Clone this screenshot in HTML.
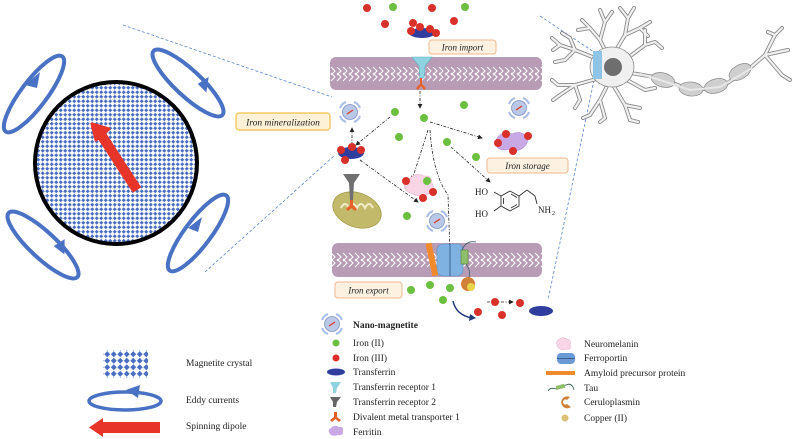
<!DOCTYPE html>
<html><head><meta charset="utf-8"><style>
html,body{margin:0;padding:0;background:#fff;width:793px;height:439px;overflow:hidden}
svg{display:block}
text{font-family:"Liberation Serif",serif;fill:#222}
</style></head><body>
<svg width="793" height="439" viewBox="0 0 793 439" xmlns="http://www.w3.org/2000/svg">
<defs>
<pattern id="dia" width="4.5" height="4.5" patternUnits="userSpaceOnUse">
<rect width="4.5" height="4.5" fill="#fff"/>
<path d="M2.25 0.2 L4.3 2.25 L2.25 4.3 L0.2 2.25Z" fill="#4a6fc2"/>
</pattern>
<pattern id="dia2" width="6.5" height="6.5" patternUnits="userSpaceOnUse">
<rect width="6.5" height="6.5" fill="#fff"/>
<path d="M3.25 0.3 L6.2 3.25 L3.25 6.2 L0.3 3.25Z" fill="#4a6fc2"/>
</pattern>
<pattern id="mem1" x="0" y="57" width="6" height="33" patternUnits="userSpaceOnUse">
<rect width="6" height="33" fill="#b89cb6"/>
<path d="M1 10 L5 14 L1 18 M1 16 L5 20 L1 24" stroke="#fff" stroke-width="1.1" fill="none"/>
</pattern>
<pattern id="mem2" x="0" y="243" width="6" height="34" patternUnits="userSpaceOnUse">
<rect width="6" height="34" fill="#b89cb6"/>
<path d="M1 10 L5 14 L1 18 M1 16 L5 20 L1 24" stroke="#fff" stroke-width="1.1" fill="none"/>
</pattern>
<g id="nm">
<circle r="7.5" fill="#b9c8e6" stroke="#7f93c4" stroke-width="0.8"/>
<line x1="-3" y1="2" x2="3" y2="-2" stroke="#e23a2e" stroke-width="1.3"/>
<path d="M-10 -4 A10 10 0 0 1 -4 -10 M4 -10 A10 10 0 0 1 10 -4 M10 4 A10 10 0 0 1 4 10 M-4 10 A10 10 0 0 1 -10 4" stroke="#a9bde6" stroke-width="2" fill="none"/>
</g>
<g id="gd"><circle r="4" fill="#6cc040"/></g>
<g id="rd"><circle r="4" fill="#d9302a"/></g>
<marker id="ah" markerWidth="6" markerHeight="6" refX="5" refY="3" orient="auto"><path d="M0 0 L6 3 L0 6Z" fill="#222"/></marker>
</defs>

<g stroke="#5b86c9" stroke-width="0.8" stroke-dasharray="3,2" fill="none">
<line x1="123" y1="25" x2="332" y2="97"/>
<line x1="205" y1="272" x2="335" y2="155"/>
<line x1="540" y1="16" x2="594" y2="52"/>
<line x1="594" y1="80" x2="548" y2="300"/>
</g>

<circle cx="116" cy="163" r="81" fill="url(#dia)" stroke="#000" stroke-width="4"/>
<line x1="137" y1="190" x2="100" y2="133" stroke="#e8352a" stroke-width="10"/>
<path d="M92 124 L109 129 L96 140 Z" fill="#e8352a" stroke="#e8352a" stroke-width="3" stroke-linejoin="round"/>

<g stroke="#4a72c4" stroke-width="4" fill="none">
<ellipse cx="34" cy="94" rx="47" ry="13" transform="rotate(-53 34 94)"/>
<ellipse cx="188" cy="83" rx="47" ry="13" transform="rotate(43 188 83)"/>
<ellipse cx="43" cy="245" rx="47" ry="13" transform="rotate(43 43 245)"/>
<ellipse cx="198" cy="233" rx="47" ry="13" transform="rotate(-53 198 233)"/>
</g>
<g fill="#4a72c4">
<path d="M25 85 L40 72 L37 88 Z"/>
<path d="M198 83 L210 78 L205 93 Z" transform="rotate(-10 203 85)"/>
<path d="M54 245 L66 240 L63 255 Z" transform="rotate(-10 60 247)"/>
<path d="M188 228 L202 217 L198 232 Z"/>
</g>

<rect x="236" y="113" width="94" height="17" rx="3" fill="#fdf2d8" stroke="#f2c048" stroke-width="1.2"/>
<text x="283" y="125.5" font-size="9.5" font-style="italic" text-anchor="middle">Iron mineralization</text>

<rect x="103" y="350" width="45" height="28" fill="url(#dia2)"/>
<ellipse cx="125" cy="401" rx="36" ry="9" fill="none" stroke="#4a72c4" stroke-width="3.5"/>
<path d="M126 390 L140 385 L138 398 Z" fill="#4a72c4"/>
<rect x="100" y="422" width="60" height="11" fill="#e8352a"/>
<path d="M89 427.5 L103 418 L103 437 Z" fill="#e8352a"/>
<text x="186" y="366" font-size="9.5">Magnetite crystal</text>
<text x="186" y="403" font-size="9.5">Eddy currents</text>
<text x="186" y="429" font-size="9.5">Spinning dipole</text>

<rect x="330" y="57" width="212" height="33" rx="6" fill="url(#mem1)"/>
<rect x="332" y="243" width="210" height="34" rx="6" fill="url(#mem2)"/>

<use href="#rd" x="367" y="8"/><use href="#rd" x="432" y="8"/><use href="#rd" x="385" y="24"/><use href="#rd" x="454" y="21"/>
<use href="#gd" x="393" y="7"/><use href="#gd" x="465" y="7"/>
<ellipse cx="422" cy="33" rx="13" ry="5" fill="#2e3d9e"/>
<use href="#rd" x="413" y="23"/><use href="#rd" x="420" y="27"/><use href="#rd" x="430" y="29"/><use href="#rd" x="411" y="31"/><use href="#rd" x="436" y="33"/>
<rect x="429" y="40" width="67" height="14" rx="3" fill="#fdf2e2" stroke="#f0b890" stroke-width="1"/>
<text x="462.5" y="50.5" font-size="9" font-style="italic" text-anchor="middle">Iron import</text>

<path d="M412 57 L432 57 L425 66 L424 78 L420 78 L419 66 Z" fill="#8fd3e0" stroke="#5bb5c8" stroke-width="0.6"/>
<path d="M420 78 L422 78 L422 84 L426 88 L424 90 L421 86 L418 90 L416 88 L420 84 Z" fill="#e6602a"/>

<g stroke="#222" stroke-width="0.8" stroke-dasharray="3,1.5,1,1.5" fill="none" marker-end="url(#ah)">
<line x1="420" y1="91" x2="420" y2="108"/>
<path d="M390 117 L356 145"/>
<path d="M430 122 L482 138"/>
<path d="M428 130 L412 180"/>
<path d="M451 147 L490 182"/>
<path d="M430 130 Q433 175 448 195 L450 253"/>
<path d="M360 160 L418 202"/>
<path d="M352 145 L352 128"/>
<path d="M487 302 L513 302"/>
</g>

<use href="#gd" x="395" y="112"/><use href="#gd" x="424" y="118"/><use href="#gd" x="464" y="105"/><use href="#gd" x="517" y="110"/>
<use href="#gd" x="399" y="137"/><use href="#gd" x="447" y="142"/><use href="#gd" x="476" y="157"/><use href="#gd" x="407" y="216"/>
<use href="#gd" x="411" y="290"/><use href="#gd" x="430" y="285"/><use href="#gd" x="450" y="288"/><use href="#gd" x="443" y="300"/>

<use href="#nm" x="350" y="112"/><use href="#nm" x="519" y="108"/><use href="#nm" x="437" y="221"/>

<ellipse cx="351" cy="153" rx="13" ry="6" fill="#2e3d9e"/>
<use href="#rd" x="341" y="150"/><use href="#rd" x="352" y="147"/><use href="#rd" x="361" y="150"/><use href="#rd" x="345" y="160"/>

<path d="M500 135 Q505 130 512 134 Q520 130 526 136 Q530 142 524 147 Q518 153 510 149 Q500 152 496 146 Q494 139 500 135Z" fill="#c9a8e6" stroke="#a57fcc" stroke-width="0.5"/>
<use href="#rd" x="506" y="134"/><use href="#rd" x="528" y="136"/><use href="#rd" x="498" y="143"/><use href="#rd" x="513" y="151"/>
<rect x="487" y="158" width="81" height="15" rx="3" fill="#fdf2e2" stroke="#f0b890" stroke-width="1"/>
<text x="527.5" y="169" font-size="9" font-style="italic" text-anchor="middle">Iron storage</text>

<path d="M410 178 Q416 172 424 176 Q432 175 432 183 Q436 190 428 194 Q420 198 413 194 Q404 192 404 185 Q404 179 410 178Z" fill="#f8d6e6" stroke="#e4a9c5" stroke-width="0.5"/>
<use href="#rd" x="406" y="181"/><use href="#gd" x="427" y="181"/><use href="#rd" x="433" y="192"/><use href="#rd" x="423" y="198"/>

<ellipse cx="357" cy="210" rx="25" ry="17" fill="#c2b96a" stroke="#a59d4a" stroke-width="0.8" transform="rotate(20 357 210)"/>
<path d="M341 208 q4 -8 8 0 q4 -8 8 0 q4 -8 8 0 q4 -8 8 0" stroke="#f0ecc8" stroke-width="2" fill="none"/>
<path d="M343 174 L360 174 L354 183 L353 200 L350 200 L349 183 Z" fill="#707070"/>
<path d="M350 200 L353 200 L353 205 L357 209 L355 211 L351.5 208 L348 211 L346 209 L350 205 Z" fill="#e6602a"/>

<g stroke="#333" stroke-width="0.9" fill="none">
<path d="M510 191 L519 196 L519 206 L510 211 L501 206 L501 196 Z"/>
<line x1="503.5" y1="198" x2="503.5" y2="204"/><line x1="511" y1="208" x2="517" y2="204.5"/><line x1="511" y1="194" x2="517" y2="197.5"/>
<line x1="501" y1="196" x2="494" y2="192"/><line x1="501" y1="206" x2="494" y2="211"/>
<line x1="519" y1="196" x2="527" y2="190"/><line x1="527" y1="190" x2="535" y2="196"/><line x1="535" y1="196" x2="537" y2="204"/>
</g>
<text x="475" y="195" font-size="9">HO</text>
<text x="475" y="217" font-size="9">HO</text>
<text x="538" y="213" font-size="9">NH</text><text x="552" y="215" font-size="6">2</text>

<rect x="437" y="244" width="26" height="32" rx="6" fill="#7fb2e0" stroke="#5a90c8" stroke-width="0.6"/>
<line x1="450" y1="244" x2="450" y2="276" stroke="#2c4f7c" stroke-width="0.8"/>
<rect x="429" y="243" width="6" height="33" fill="#f08a2c" transform="rotate(-12 432 260)"/>
<rect x="461" y="250" width="7" height="14" fill="#8fbf6a" stroke="#4c7a30" stroke-width="0.5"/>
<path d="M462 250 Q466 240 476 242 M466 264 Q472 272 468 280" stroke="#3b5a6a" stroke-width="0.8" fill="none"/>
<circle cx="468" cy="284" r="7" fill="#d0823a"/>
<circle cx="471" cy="287" r="4" fill="#e8d64a"/>

<rect x="335" y="282" width="67" height="16" rx="3" fill="#fdf2e2" stroke="#f0b890" stroke-width="1"/>
<text x="368.5" y="293.5" font-size="9" font-style="italic" text-anchor="middle">Iron export</text>

<path d="M453 301 Q456 315 472 318" stroke="#223a7a" stroke-width="1.5" fill="none"/>
<path d="M470 314 L476 318 L469 321Z" fill="#223a7a"/>
<use href="#rd" x="478" y="312"/><use href="#rd" x="495" y="302"/><use href="#rd" x="502" y="315"/><use href="#rd" x="520" y="303"/>
<ellipse cx="541" cy="311" rx="12" ry="5" fill="#2e3d9e"/>

<use href="#nm" x="332" y="324"/>
<text x="353" y="328" font-size="9.5" font-weight="bold">Nano-magnetite</text>
<circle cx="336" cy="343" r="3.5" fill="#6cc040"/>
<circle cx="336" cy="358" r="3.5" fill="#d9302a"/>
<ellipse cx="336" cy="372" rx="9" ry="3.5" fill="#2e3d9e"/>
<path d="M330 382 L341 382 L337 388 L336 393 L333 393 L333 388 Z" fill="#8fd3e0"/>
<path d="M330 397 L341 397 L337 402 L336 407 L333 407 L333 402 Z" fill="#666"/>
<path d="M334 412 L337 412 L337 417 L341 420 L339 422 L335.5 419 L332 422 L330 420 L334 417 Z" fill="#e6602a"/>
<path d="M331 428 Q335 424 339 427 Q344 426 343 431 Q344 436 338 435 Q333 437 330 434 Q327 430 331 428Z" fill="#c9a8e6"/>
<g font-size="9.5">
<text x="353" y="346">Iron (II)</text>
<text x="353" y="361">Iron (III)</text>
<text x="353" y="375">Transferrin</text>
<text x="353" y="390">Transferrin receptor 1</text>
<text x="353" y="405">Transferrin receptor 2</text>
<text x="353" y="420">Divalent metal transporter 1</text>
<text x="353" y="435">Ferritin</text>
<text x="584" y="347">Neuromelanin</text>
<text x="584" y="361">Ferroportin</text>
<text x="584" y="376">Amyloid precursor protein</text>
<text x="584" y="391">Tau</text>
<text x="584" y="405">Ceruloplasmin</text>
<text x="584" y="421">Copper (II)</text>
</g>
<path d="M558 340 Q562 336 567 339 Q572 340 570 345 Q572 350 566 349 Q560 351 558 347 Q555 343 558 340Z" fill="#f8d6e6" stroke="#e4a9c5" stroke-width="0.5"/>
<rect x="557" y="353" width="18" height="11" rx="4" fill="#6a9ad6"/>
<line x1="557" y1="358.5" x2="575" y2="358.5" stroke="#2c4f7c" stroke-width="0.7"/>
<rect x="546" y="371" width="29" height="4" fill="#f08a2c"/>
<path d="M548 391 Q550 387 556 389 L566 385 Q572 382 574 390" stroke="#2a5a4a" stroke-width="0.8" fill="none"/>
<rect x="556" y="385" width="9" height="4" fill="#8fbf6a" transform="rotate(-15 560 387)"/>
<path d="M570 397 A6 6 0 1 0 571 407 L567 404 A2.5 2.5 0 1 1 567 400 Z" fill="#d0823a"/>
<circle cx="565" cy="418" r="3.5" fill="#dcc07a"/>

<!-- neuron -->
<g stroke-linecap="round" stroke-linejoin="round" fill="none">
<g id="dend" stroke="#8a8a8a" stroke-width="4">
<path d="M610 60 L600 40 L590 28 M600 40 L605 22 M610 60 L625 35 L628 18 M625 35 L640 28 M590 28 L582 20 M605 22 L600 10 M590 28 L578 30 M628 18 L634 8 M628 18 L620 8 M605 22 L612 12 M640 28 L650 22 M640 28 L648 36"/>
<path d="M600 60 L575 50 L560 45 M575 50 L565 60 M560 45 L552 38 M575 50 L570 38 M560 45 L553 50 M565 60 L555 62 M570 38 L562 33"/>
<path d="M600 78 L575 85 L558 85 M575 85 L560 95 M575 85 L580 100 M558 85 L552 80 M560 95 L553 100 M580 100 L575 108"/>
<path d="M610 80 L600 100 L590 115 M600 100 L605 118 M610 80 L625 105 L630 120 M625 105 L640 108 M590 115 L583 118 M630 120 L638 122 M605 118 L600 122"/>
<path d="M625 60 L645 45 L655 42 M645 45 L645 30 M655 42 L662 48 M627 80 L645 90 L655 88"/>
<path d="M625 72 L660 78 L690 90 L720 88 L750 68 L765 55 L775 35 M765 55 L788 50 M765 55 L782 75 M775 35 L768 32 M782 75 L790 80 M775 35 L782 28"/>
</g>
<g stroke="#f0f0f0" stroke-width="2.2">
<path d="M610 60 L600 40 L590 28 M600 40 L605 22 M610 60 L625 35 L628 18 M625 35 L640 28 M590 28 L582 20 M605 22 L600 10 M590 28 L578 30 M628 18 L634 8 M628 18 L620 8 M605 22 L612 12 M640 28 L650 22 M640 28 L648 36"/>
<path d="M600 60 L575 50 L560 45 M575 50 L565 60 M560 45 L552 38 M575 50 L570 38 M560 45 L553 50 M565 60 L555 62 M570 38 L562 33"/>
<path d="M600 78 L575 85 L558 85 M575 85 L560 95 M575 85 L580 100 M558 85 L552 80 M560 95 L553 100 M580 100 L575 108"/>
<path d="M610 80 L600 100 L590 115 M600 100 L605 118 M610 80 L625 105 L630 120 M625 105 L640 108 M590 115 L583 118 M630 120 L638 122 M605 118 L600 122"/>
<path d="M625 60 L645 45 L655 42 M645 45 L645 30 M655 42 L662 48 M627 80 L645 90 L655 88"/>
<path d="M625 72 L660 78 L690 90 L720 88 L750 68 L765 55 L775 35 M765 55 L788 50 M765 55 L782 75 M775 35 L768 32 M782 75 L790 80 M775 35 L782 28"/>
</g>
</g>
<ellipse cx="612" cy="67" rx="22" ry="20" fill="#f0f0f0" stroke="#8a8a8a" stroke-width="0.8"/>
<g fill="#cfcfcf" stroke="#8a8a8a" stroke-width="0.7">
<ellipse cx="663" cy="80" rx="12" ry="7" transform="rotate(15 663 80)"/>
<ellipse cx="691" cy="89" rx="12" ry="7" transform="rotate(5 691 89)"/>
<ellipse cx="716" cy="86" rx="12" ry="7" transform="rotate(-15 716 86)"/>
<ellipse cx="740" cy="72" rx="12" ry="7" transform="rotate(-30 740 72)"/>
</g>
<path d="M640 74 L660 80 L690 90 L720 87 L752 68" stroke="#e8e8e8" stroke-width="2" fill="none"/>
<rect x="593" y="51" width="9" height="28" fill="#8ec4e6"/>
<circle cx="613" cy="67" r="9" fill="#6e6e6e"/>
</svg>
</body></html>
